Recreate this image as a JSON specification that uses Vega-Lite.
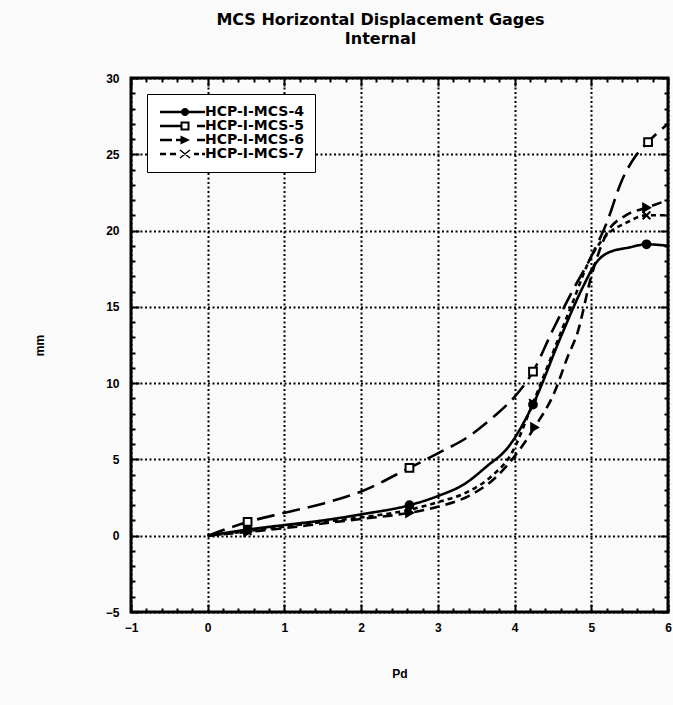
{
  "$schema": "https://vega.github.io/schema/vega-lite/v6.json",
  "width": 537,
  "height": 534,
  "autosize": {"type": "none"},
  "padding": {"left": 131, "top": 78, "right": 5, "bottom": 93},
  "background": "#fafafa",
  "config": {
    "font": "Liberation Sans",
    "view": {"stroke": "black", "strokeWidth": 3}
  },
  "title": {
    "text": "MCS Horizontal Displacement Gages",
    "subtitle": "Internal",
    "font": "DejaVu Sans",
    "subtitleFont": "DejaVu Sans",
    "fontSize": 16,
    "fontWeight": "bold",
    "subtitleFontSize": 16,
    "subtitleFontWeight": "bold",
    "subtitleColor": "black",
    "color": "black",
    "subtitlePadding": 3,
    "anchor": "middle",
    "dx": -19,
    "offset": 25
  },
  "datasets": {
    "curves": [
      {"gage": "HCP-I-MCS-4", "pd": 0, "mm": 0},
      {"gage": "HCP-I-MCS-4", "pd": 0.52, "mm": 0.4},
      {"gage": "HCP-I-MCS-4", "pd": 1, "mm": 0.7},
      {"gage": "HCP-I-MCS-4", "pd": 1.5, "mm": 1.0},
      {"gage": "HCP-I-MCS-4", "pd": 2, "mm": 1.4},
      {"gage": "HCP-I-MCS-4", "pd": 2.63, "mm": 2.0},
      {"gage": "HCP-I-MCS-4", "pd": 3, "mm": 2.6},
      {"gage": "HCP-I-MCS-4", "pd": 3.35, "mm": 3.4},
      {"gage": "HCP-I-MCS-4", "pd": 3.65, "mm": 4.6},
      {"gage": "HCP-I-MCS-4", "pd": 3.9, "mm": 5.7},
      {"gage": "HCP-I-MCS-4", "pd": 4.24, "mm": 8.6},
      {"gage": "HCP-I-MCS-4", "pd": 4.6, "mm": 13},
      {"gage": "HCP-I-MCS-4", "pd": 4.9, "mm": 16.4},
      {"gage": "HCP-I-MCS-4", "pd": 5.05, "mm": 17.8},
      {"gage": "HCP-I-MCS-4", "pd": 5.2, "mm": 18.5},
      {"gage": "HCP-I-MCS-4", "pd": 5.5, "mm": 18.9},
      {"gage": "HCP-I-MCS-4", "pd": 5.72, "mm": 19.1},
      {"gage": "HCP-I-MCS-4", "pd": 6, "mm": 19.0},
      {"gage": "HCP-I-MCS-5", "pd": 0, "mm": 0},
      {"gage": "HCP-I-MCS-5", "pd": 0.52, "mm": 0.9},
      {"gage": "HCP-I-MCS-5", "pd": 1, "mm": 1.5},
      {"gage": "HCP-I-MCS-5", "pd": 1.5, "mm": 2.1},
      {"gage": "HCP-I-MCS-5", "pd": 2, "mm": 2.9},
      {"gage": "HCP-I-MCS-5", "pd": 2.63, "mm": 4.45},
      {"gage": "HCP-I-MCS-5", "pd": 3, "mm": 5.4},
      {"gage": "HCP-I-MCS-5", "pd": 3.4, "mm": 6.5},
      {"gage": "HCP-I-MCS-5", "pd": 3.75, "mm": 7.9},
      {"gage": "HCP-I-MCS-5", "pd": 4.0, "mm": 9.1},
      {"gage": "HCP-I-MCS-5", "pd": 4.24, "mm": 10.75},
      {"gage": "HCP-I-MCS-5", "pd": 4.5, "mm": 13.5},
      {"gage": "HCP-I-MCS-5", "pd": 4.75, "mm": 16},
      {"gage": "HCP-I-MCS-5", "pd": 5.0, "mm": 18.3},
      {"gage": "HCP-I-MCS-5", "pd": 5.2, "mm": 20.5},
      {"gage": "HCP-I-MCS-5", "pd": 5.4, "mm": 23.3},
      {"gage": "HCP-I-MCS-5", "pd": 5.58, "mm": 24.9},
      {"gage": "HCP-I-MCS-5", "pd": 5.74, "mm": 25.8},
      {"gage": "HCP-I-MCS-5", "pd": 6, "mm": 27},
      {"gage": "HCP-I-MCS-6", "pd": 0, "mm": 0},
      {"gage": "HCP-I-MCS-6", "pd": 0.52, "mm": 0.25},
      {"gage": "HCP-I-MCS-6", "pd": 1, "mm": 0.5},
      {"gage": "HCP-I-MCS-6", "pd": 1.5, "mm": 0.8},
      {"gage": "HCP-I-MCS-6", "pd": 2, "mm": 1.1},
      {"gage": "HCP-I-MCS-6", "pd": 2.63, "mm": 1.5},
      {"gage": "HCP-I-MCS-6", "pd": 3, "mm": 1.9},
      {"gage": "HCP-I-MCS-6", "pd": 3.4, "mm": 2.6},
      {"gage": "HCP-I-MCS-6", "pd": 3.75, "mm": 3.8},
      {"gage": "HCP-I-MCS-6", "pd": 4.0, "mm": 5.2},
      {"gage": "HCP-I-MCS-6", "pd": 4.26, "mm": 7.1},
      {"gage": "HCP-I-MCS-6", "pd": 4.52, "mm": 9.4},
      {"gage": "HCP-I-MCS-6", "pd": 4.69, "mm": 11.7},
      {"gage": "HCP-I-MCS-6", "pd": 4.82, "mm": 13.3},
      {"gage": "HCP-I-MCS-6", "pd": 5.0, "mm": 17.0},
      {"gage": "HCP-I-MCS-6", "pd": 5.2, "mm": 19.8},
      {"gage": "HCP-I-MCS-6", "pd": 5.45, "mm": 21.0},
      {"gage": "HCP-I-MCS-6", "pd": 5.72, "mm": 21.5},
      {"gage": "HCP-I-MCS-6", "pd": 6, "mm": 22.0},
      {"gage": "HCP-I-MCS-7", "pd": 0, "mm": 0},
      {"gage": "HCP-I-MCS-7", "pd": 0.52, "mm": 0.3},
      {"gage": "HCP-I-MCS-7", "pd": 1, "mm": 0.6},
      {"gage": "HCP-I-MCS-7", "pd": 1.5, "mm": 0.9},
      {"gage": "HCP-I-MCS-7", "pd": 2, "mm": 1.2},
      {"gage": "HCP-I-MCS-7", "pd": 2.63, "mm": 1.7},
      {"gage": "HCP-I-MCS-7", "pd": 3, "mm": 2.2},
      {"gage": "HCP-I-MCS-7", "pd": 3.4, "mm": 2.9},
      {"gage": "HCP-I-MCS-7", "pd": 3.7, "mm": 3.9},
      {"gage": "HCP-I-MCS-7", "pd": 3.95, "mm": 5.3},
      {"gage": "HCP-I-MCS-7", "pd": 4.24, "mm": 8.7},
      {"gage": "HCP-I-MCS-7", "pd": 4.5, "mm": 12},
      {"gage": "HCP-I-MCS-7", "pd": 4.75, "mm": 15.2},
      {"gage": "HCP-I-MCS-7", "pd": 5.0, "mm": 18.3},
      {"gage": "HCP-I-MCS-7", "pd": 5.2, "mm": 19.7},
      {"gage": "HCP-I-MCS-7", "pd": 5.45, "mm": 20.5},
      {"gage": "HCP-I-MCS-7", "pd": 5.72, "mm": 21.0},
      {"gage": "HCP-I-MCS-7", "pd": 6, "mm": 21.0}
    ],
    "markers": [
      {"gage": "HCP-I-MCS-4", "pd": 0.52, "mm": 0.4},
      {"gage": "HCP-I-MCS-4", "pd": 2.63, "mm": 2.0},
      {"gage": "HCP-I-MCS-4", "pd": 4.24, "mm": 8.6},
      {"gage": "HCP-I-MCS-4", "pd": 5.72, "mm": 19.1},
      {"gage": "HCP-I-MCS-5", "pd": 0.52, "mm": 0.9},
      {"gage": "HCP-I-MCS-5", "pd": 2.63, "mm": 4.45},
      {"gage": "HCP-I-MCS-5", "pd": 4.24, "mm": 10.75},
      {"gage": "HCP-I-MCS-5", "pd": 5.74, "mm": 25.8},
      {"gage": "HCP-I-MCS-6", "pd": 0.52, "mm": 0.25},
      {"gage": "HCP-I-MCS-6", "pd": 2.63, "mm": 1.5},
      {"gage": "HCP-I-MCS-6", "pd": 4.26, "mm": 7.1},
      {"gage": "HCP-I-MCS-6", "pd": 5.72, "mm": 21.5},
      {"gage": "HCP-I-MCS-7", "pd": 0.52, "mm": 0.3},
      {"gage": "HCP-I-MCS-7", "pd": 2.63, "mm": 1.7},
      {"gage": "HCP-I-MCS-7", "pd": 4.24, "mm": 8.7},
      {"gage": "HCP-I-MCS-7", "pd": 5.72, "mm": 21.0}
    ]
  },
  "layer": [
    {
      "data": {"name": "curves"},
      "mark": {"type": "line", "interpolate": "monotone", "color": "black", "strokeWidth": 2.6},
      "encoding": {
        "x": {
          "field": "pd", "type": "quantitative",
          "scale": {"domain": [-1, 6], "nice": false, "zero": false},
          "axis": {
            "orient": "bottom",
            "values": [-1,-0.8,-0.6,-0.4,-0.2,0,0.2,0.4,0.6,0.8,1,1.2,1.4,1.6,1.8,2,2.2,2.4,2.6,2.8,3,3.2,3.4,3.6,3.8,4,4.2,4.4,4.6,4.8,5,5.2,5.4,5.6,5.8,6],
            "labelExpr": "datum.value % 1 === 0 ? format(datum.value, 'd') : ''",
            "grid": true,
            "gridColor": "black",
            "gridDash": [2, 2.5],
            "gridWidth": 2,
            "gridOpacity": {"condition": {"test": "datum.value % 1 === 0", "value": 1}, "value": 0},
            "tickSize": {"condition": {"test": "datum.value % 1 === 0", "value": -8}, "value": -4},
            "tickColor": "black",
            "tickWidth": 2,
            "domain": false,
            "labelFontSize": 12,
            "labelFontWeight": "bold",
            "labelColor": "black",
            "labelPadding": 18,
            "labelFlush": false,
            "title": "Pd",
            "titleFontSize": 12,
            "titleFontWeight": "bold",
            "titleColor": "black",
            "titlePadding": 35
          }
        },
        "y": {
          "field": "mm", "type": "quantitative",
          "scale": {"domain": [-5, 30], "nice": false, "zero": false},
          "axis": {
            "orient": "left",
            "values": [-5,-4,-3,-2,-1,0,1,2,3,4,5,6,7,8,9,10,11,12,13,14,15,16,17,18,19,20,21,22,23,24,25,26,27,28,29,30],
            "labelExpr": "datum.value % 5 === 0 ? format(datum.value, 'd') : ''",
            "grid": true,
            "gridColor": "black",
            "gridDash": [2, 2.5],
            "gridWidth": 2,
            "gridOpacity": {"condition": {"test": "datum.value % 5 === 0", "value": 1}, "value": 0},
            "tickSize": {"condition": {"test": "datum.value % 5 === 0", "value": -8}, "value": -4},
            "tickColor": "black",
            "tickWidth": 2,
            "domain": false,
            "labelFontSize": 12,
            "labelFontWeight": "bold",
            "labelColor": "black",
            "labelPadding": 20,
            "labelFlush": false,
            "title": "mm",
            "titleFontSize": 12,
            "titleFontWeight": "bold",
            "titleColor": "black",
            "titlePadding": 59
          }
        },
        "detail": {"field": "gage"},
        "strokeDash": {
          "field": "gage", "type": "nominal",
          "scale": {"domain": ["HCP-I-MCS-4", "HCP-I-MCS-5", "HCP-I-MCS-6", "HCP-I-MCS-7"], "range": [[1, 0], [18, 8], [10, 6], [5, 4]]},
          "legend": null
        }
      }
    },
    {
      "data": {"name": "markers"},
      "mark": {"type": "point", "filled": true, "stroke": "black", "strokeWidth": 2, "size": 60, "opacity": 1},
      "encoding": {
        "x": {"field": "pd", "type": "quantitative", "axis": null},
        "y": {"field": "mm", "type": "quantitative", "axis": null},
        "fill": {"condition": {"test": "datum.gage === 'HCP-I-MCS-5'", "value": "white"}, "value": "black"},
        "shape": {
          "condition": [
            {"test": "datum.gage === 'HCP-I-MCS-5'", "value": "square"},
            {"test": "datum.gage === 'HCP-I-MCS-6'", "value": "triangle-right"},
            {"test": "datum.gage === 'HCP-I-MCS-7'", "value": "M-1,-1L1,1M1,-1L-1,1"}
          ],
          "value": "circle"
        }
      }
    },
    {
      "data": {"name": "markers"},
      "mark": {"type": "point", "filled": true, "color": "black", "size": 0},
      "encoding": {
        "x": {"field": "pd", "type": "quantitative", "axis": null},
        "y": {"field": "mm", "type": "quantitative", "axis": null},
        "shape": {
          "field": "gage", "type": "nominal",
          "scale": {
            "domain": ["HCP-I-MCS-4", "HCP-I-MCS-5", "HCP-I-MCS-6", "HCP-I-MCS-7"],
            "range": [
              "M-1,-0.26H8V0.26H-1ZM3.2,0a0.8,0.8 0 1,1 1.6,0a0.8,0.8 0 1,1 -1.6,0Z",
              "M-1,-0.26H3.1V0.26H-1ZM3.1,-0.9H4.9V0.9H3.1ZM3.5,-0.5V0.5H4.5V-0.5ZM6.4,-0.26H8V0.26H6.4Z",
              "M-1,-0.26H1.4V0.26H-1ZM2.2,-0.26H3.1V0.26H2.2ZM3.1,-0.9L5,0L3.1,0.9ZM6.4,-0.26H8V0.26H6.4Z",
              "M-1,-0.26H0.2V0.26H-1ZM1,-0.26H2.2V0.26H1ZM3.094,-0.917L5.094,0.683L4.906,0.917L2.906,-0.683ZM5.094,-0.683L3.094,0.917L2.906,0.683L4.906,-0.917ZM5.8,-0.26H6.8V0.26H5.8ZM7.4,-0.26H8V0.26H7.4Z"
            ]
          },
          "legend": {
            "title": null,
            "orient": "top-left",
            "offset": 16,
            "strokeColor": "black",
            "fillColor": "white",
            "padding": 11,
            "labelFont": "DejaVu Sans",
            "labelFontSize": 14,
            "labelFontWeight": "bold",
            "labelColor": "black",
            "labelOffset": 33,
            "rowPadding": -2,
            "symbolSize": 100,
            "symbolOpacity": 1,
            "symbolStrokeWidth": 0,
            "symbolFillColor": "black",
            "encode": {
              "legend": {"strokeWidth": {"value": 3}}
            }
          }
        }
      }
    },
    {
      "data": {"name": "curves"},
      "mark": {"type": "line", "strokeOpacity": 0, "interpolate": "monotone"},
      "encoding": {
        "x": {
          "field": "pd", "type": "quantitative",
          "axis": {
            "orient": "top",
            "values": [-1,-0.8,-0.6,-0.4,-0.2,0,0.2,0.4,0.6,0.8,1,1.2,1.4,1.6,1.8,2,2.2,2.4,2.6,2.8,3,3.2,3.4,3.6,3.8,4,4.2,4.4,4.6,4.8,5,5.2,5.4,5.6,5.8,6],
            "labels": false, "grid": false, "domain": false, "title": null,
            "tickSize": {"condition": {"test": "datum.value % 1 === 0", "value": -8}, "value": -4},
            "tickColor": "black", "tickWidth": 2
          }
        },
        "y": {
          "field": "mm", "type": "quantitative",
          "axis": {
            "orient": "right",
            "values": [-5,-4,-3,-2,-1,0,1,2,3,4,5,6,7,8,9,10,11,12,13,14,15,16,17,18,19,20,21,22,23,24,25,26,27,28,29,30],
            "labels": false, "grid": false, "domain": false, "title": null,
            "tickSize": {"condition": {"test": "datum.value % 5 === 0", "value": -8}, "value": -4},
            "tickColor": "black", "tickWidth": 2
          }
        },
        "detail": {"field": "gage"}
      }
    }
  ],
  "resolve": {"axis": {"x": "independent", "y": "independent"}, "legend": {"strokeDash": "independent", "shape": "independent"}}
}
